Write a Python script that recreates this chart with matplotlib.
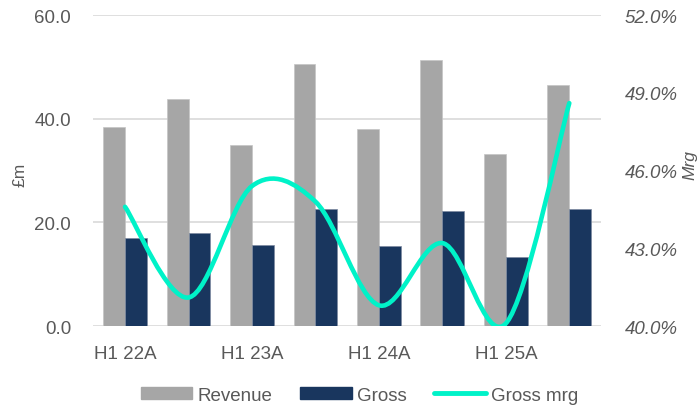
import matplotlib.pyplot as plt
import numpy as np
from matplotlib.path import Path
from matplotlib.patches import PathPatch
from matplotlib.lines import Line2D

plt.rcParams['font.family'] = ['Liberation Sans', 'DejaVu Sans']

# data
periods = ['H1 22A', 'H2 22A', 'H1 23A', 'H2 23A', 'H1 24A', 'H2 24A', 'H1 25A', 'H2 25A']
revenue = [38.4, 43.8, 34.9, 50.5, 38.0, 51.4, 33.2, 46.5]
gross = [17.0, 17.9, 15.6, 22.6, 15.4, 22.2, 13.3, 22.6]
gross_mrg = [44.6, 41.1, 45.4, 44.8, 40.8, 43.2, 40.1, 48.6]

grey_txt = '#595959'
rev_col = '#a6a6a6'
gross_col = '#19365e'
line_col = '#00f2c8'
fs = 13.5


def smooth_path(xs, ys):
    # Excel style smoothed line: cubic bezier segments through every point
    pts = np.column_stack([xs, ys]).astype(float)
    n = len(pts)
    verts = [pts[0]]
    codes = [Path.MOVETO]
    for i in range(n - 1):
        p0 = pts[max(i - 1, 0)]
        p1 = pts[i]
        p2 = pts[i + 1]
        p3 = pts[min(i + 2, n - 1)]
        c1 = p1 + (p2 - p0) / 6.0
        c2 = p2 - (p3 - p1) / 6.0
        verts += [c1, c2, p2]
        codes += [Path.CURVE4] * 3
    return Path(verts, codes)


fig = plt.figure(figsize=(6.97, 4.10), dpi=100)
ax = fig.add_axes([0.1339, 0.2024, 0.7284, 0.7585])
ax2 = ax.twinx()

x = np.arange(len(periods))
w = 0.345
ax.bar(x - w / 2, revenue, width=w, color=rev_col, edgecolor='#c4c4c4', linewidth=0.5, label='Revenue', zorder=2)
ax.bar(x + w / 2, gross, width=w, color=gross_col, edgecolor='#7d8aa0', linewidth=0.5, label='Gross', zorder=2)

ax.set_xlim(-0.5, len(periods) - 0.5)
ax.set_ylim(0, 60)
ax.set_yticks([0, 20, 40, 60])
ax.set_yticklabels([f'{v:.1f}' for v in [0, 20, 40, 60]])
ax.yaxis.grid(True, color='#d9d9d9', linewidth=1.2, zorder=0)
ax.set_axisbelow(True)
ax.set_xticks(x)
ax.set_xticklabels([p if p.startswith('H1') else '' for p in periods])
ax.tick_params(axis='both', length=0, labelsize=fs, labelcolor=grey_txt)
ax.tick_params(axis='y', pad=16)
ax.tick_params(axis='x', pad=14)
for s in ax.spines.values():
    s.set_visible(False)

ax.set_ylabel('£m', fontsize=12.5, color=grey_txt, va='center')
ax.yaxis.set_label_coords(-0.144, 0.489)

ax2.set_ylim(40, 52)
ax2.set_yticks([40, 43, 46, 49, 52])
ax2.set_yticklabels([f'{v:.1f}%' for v in [40, 43, 46, 49, 52]], fontstyle='italic')
ax2.tick_params(axis='y', length=0, labelsize=fs, labelcolor=grey_txt, pad=17)
for s in ax2.spines.values():
    s.set_visible(False)
ax2.set_ylabel('Mrg', fontsize=12.5, color=grey_txt, fontstyle='italic', va='center')
ax2.yaxis.set_label_coords(1.175, 0.52)

path = smooth_path(x, gross_mrg)
ax2.add_patch(PathPatch(path, facecolor='none', edgecolor=line_col, linewidth=3.3,
                        capstyle='round', joinstyle='round', zorder=3))

handles = [plt.Rectangle((0, 0), 1, 1, color=rev_col),
           plt.Rectangle((0, 0), 1, 1, color=gross_col),
           Line2D([0], [0], color=line_col, linewidth=3.5, solid_capstyle='round')]
fig.legend(handles, ['Revenue', 'Gross', 'Gross mrg'], loc='center',
           bbox_to_anchor=(0.516, 0.034), ncol=3, frameon=False, fontsize=fs,
           labelcolor=grey_txt, handlelength=2.75, handleheight=0.55,
           handletextpad=0.3, columnspacing=1.45)

fig.savefig('out.png', dpi=100)
